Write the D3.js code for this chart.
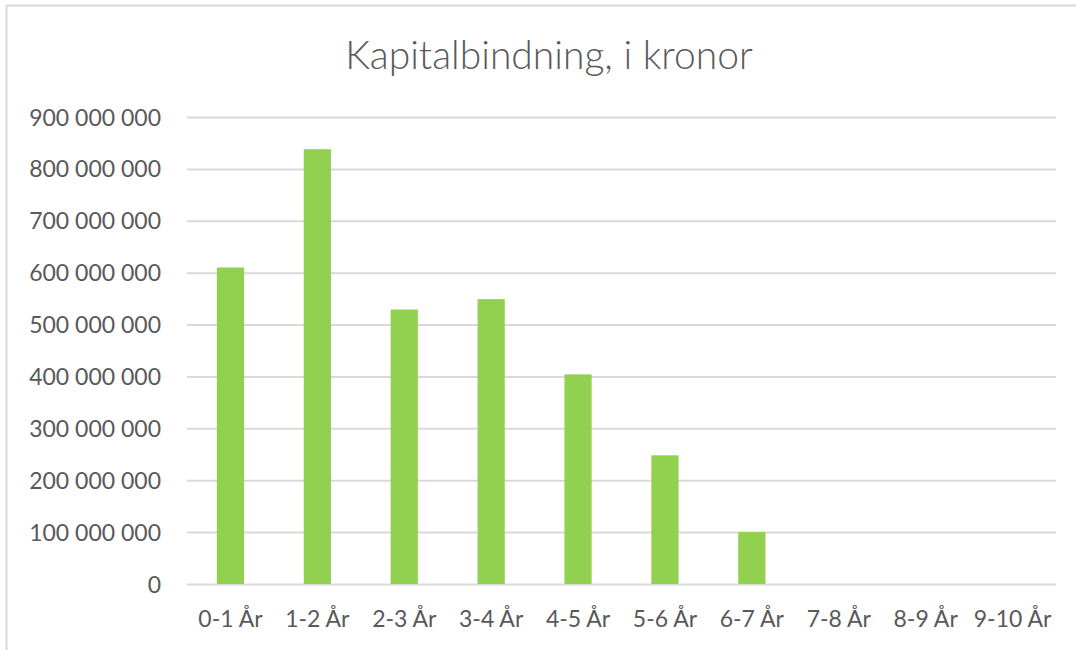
<!DOCTYPE html>
<html>
<head>
<meta charset="utf-8">
<script src="https://cdn.jsdelivr.net/npm/d3@7"></script>
<style>
  body { margin: 0; background: #fff; }
  text { font-family: Lato, "Open Sans", sans-serif; fill: #595959; }
</style>
</head>
<body>
<script>
var width = 1076,
    height = 650;

var categories = ["0-1 År", "1-2 År", "2-3 År", "3-4 År", "4-5 År", "5-6 År", "6-7 År", "7-8 År", "8-9 År", "9-10 År"];
var values = [610000000, 838000000, 529000000, 549000000, 404000000, 248000000, 100000000, 0, 0, 0];
var yTicks = [0, 100000000, 200000000, 300000000, 400000000, 500000000, 600000000, 700000000, 800000000, 900000000];
var title = "Kapitalbindning, i kronor";

var margin = {top: 117, right: 20, bottom: 66, left: 187};

var svg = d3.select("body").append("svg")
    .attr("width", width)
    .attr("height", height);

svg.append("rect")
    .attr("width", width).attr("height", height)
    .attr("fill", "#fff");

// chart area border (only top and left visible in the crop)
svg.append("path")
    .attr("d", "M6.5 " + height + " L6.5 5.5 L" + width + " 5.5")
    .attr("fill", "none")
    .attr("stroke", "#d9d9d9")
    .attr("stroke-width", 2);

var x = d3.scaleBand()
    .domain(categories)
    .range([margin.left, width - margin.right])
    .paddingInner(0.687)
    .paddingOuter(0.3435);

var y = d3.scaleLinear()
    .domain([0, 900000000])
    .range([height - margin.bottom, margin.top]);

var locale = d3.formatLocale({decimal: ",", thousands: "\u00a0", grouping: [3], currency: ["", " kr"]});
var fmt = locale.format(",d");

var yAxis = svg.append("g")
    .attr("transform", "translate(" + margin.left + ",0)")
    .call(d3.axisLeft(y)
        .tickValues(yTicks)
        .tickFormat(fmt)
        .tickSize(-(width - margin.left - margin.right))
        .tickPadding(26));

yAxis.select(".domain").remove();
yAxis.selectAll(".tick line")
    .attr("stroke", "#d9d9d9")
    .attr("stroke-width", 2);
yAxis.selectAll(".tick text")
    .style("font-size", "23px")
    .attr("dy", "0.35em");

svg.append("g")
    .selectAll("rect")
    .data(values)
    .enter().append("rect")
    .attr("x", function (d, i) { return x(categories[i]); })
    .attr("y", function (d) { return y(d); })
    .attr("width", x.bandwidth())
    .attr("height", function (d) { return y(0) - y(d); })
    .attr("fill", "#92d050");

var xAxis = svg.append("g")
    .attr("transform", "translate(0," + (height - margin.bottom) + ")")
    .call(d3.axisBottom(x).tickSize(0).tickPadding(27));

xAxis.select(".domain").remove();
xAxis.selectAll(".tick text")
    .style("font-size", "23px");

svg.append("text")
    .attr("x", 549)
    .attr("y", 69)
    .attr("text-anchor", "middle")
    .style("font-size", "39px")
    .style("font-weight", 300)
    .text(title);
</script>
</body>
</html>
